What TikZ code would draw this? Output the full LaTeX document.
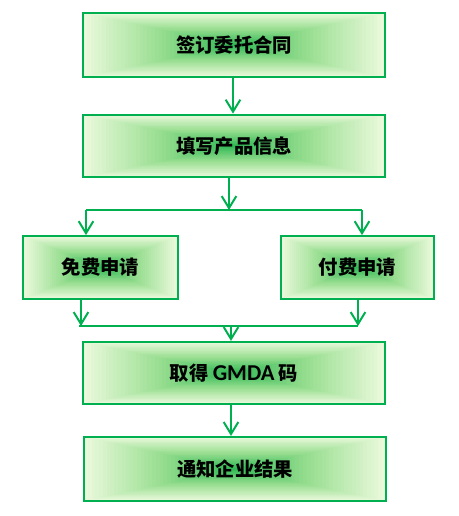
\documentclass[tikz,border=0pt]{standalone}
\usepackage{fontspec}
\newfontfamily\cjk{Noto Sans CJK SC}
\newfontfamily\carlito{Carlito}
\usetikzlibrary{arrows.meta,calc}
\definecolor{boxgreen}{HTML}{00B050}
\definecolor{gedge}{HTML}{EAF9DC}
\definecolor{gmid}{HTML}{98DE90}
\definecolor{gcenter}{HTML}{2CB752}
\tikzset{
  flowbox/.style={draw=boxgreen, line width=1.6pt, inner sep=0pt,
    font=\cjk\bfseries\fontsize{14.5}{16}\selectfont, text=black,
    path picture={
      \foreach \i in {0,...,39}{
        \pgfmathsetmacro\tt{\i/40*0.5}
        \ifnum\i<20
          \pgfmathtruncatemacro\pp{100*\i/20}
          \colorlet{tmpc}{gmid!\pp!gedge}
        \else
          \pgfmathtruncatemacro\pp{100*(\i-20)/20}
          \colorlet{tmpc}{gcenter!\pp!gmid}
        \fi
        \fill[tmpc] ($(path picture bounding box.south west)!\tt!(path picture bounding box.north east)$)
          rectangle ($(path picture bounding box.north east)!\tt!(path picture bounding box.south west)$);
      }
    }},
  conn/.style={draw=boxgreen, line width=1.5pt},
  arr/.style={conn, -{Straight Barb[length=9pt,width=11pt,line width=1.5pt]}}
}
\begin{document}
\begin{tikzpicture}[x=0.75pt,y=-0.75pt]
\useasboundingbox (0,0) rectangle (458,516);
\node[flowbox, minimum width=226.5pt, minimum height=48pt] (b1) at (234,45) {签订委托合同};
\node[flowbox, minimum width=226.5pt, minimum height=47pt] (b2) at (234,146) {填写产品信息};
\node[flowbox, minimum width=116pt, minimum height=47pt] (b3) at (100.5,267.5) {免费申请};
\node[flowbox, minimum width=115pt, minimum height=47pt] (b4) at (357.5,267.5) {付费申请};
\node[flowbox, minimum width=226.5pt, minimum height=46.5pt] (b5) at (234,373) {取得 {\carlito\fontsize{17}{18}\selectfont GMDA} 码};
\node[flowbox, minimum width=226.5pt, minimum height=48pt] (b6) at (235,469) {通知企业结果};
\coordinate (split) at (229,210);
\coordinate (L1) at (86,210);
\coordinate (R1) at (362,210);
\coordinate (L2) at (79,326);
\coordinate (R2) at (358,326);
\coordinate (merge) at (231,326);
\draw[arr] (b1.south -| 233,0) -- (b2.north -| 233,0);
\draw[arr] (b2.south -| split) -- (split);
\draw[conn] (L1) -- (R1);
\draw[arr] (L1) -- (b3.north -| L1);
\draw[arr] (R1) -- (b4.north -| R1);
\draw[arr] (b3.south -| 81,0) -- (81,326);
\draw[arr] (b4.south -| R2) -- (R2);
\draw[conn] (L2) -- (R2);
\draw[arr] (merge) -- (b5.north -| merge);
\draw[arr] (b5.south -| merge) -- (b6.north -| merge);
\end{tikzpicture}
\end{document}
